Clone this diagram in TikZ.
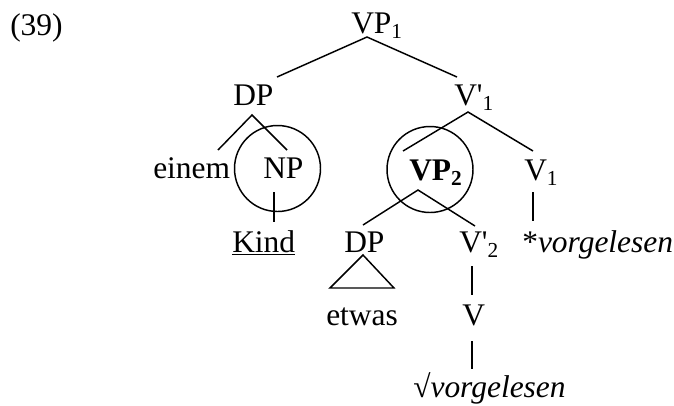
\documentclass[tikz,border=0pt]{standalone}
\usepackage{fontspec}
\setmainfont{Liberation Serif}
\newcommand\lsub[1]{\raisebox{-0.35ex}{\fontsize{16}{18}\selectfont #1}}
\begin{document}
\begin{tikzpicture}[x=0.75pt,y=-0.75pt,
  lbl/.style={inner sep=0pt,anchor=base west,font=\fontsize{23.6}{28}\selectfont},
  edge/.style={line width=1.1pt},
  ring/.style={circle,draw,line width=1.1pt,minimum size=64.5pt,inner sep=0pt}]
\useasboundingbox (0,0) rectangle (674,405);
% labels
\node[lbl] (n39) at (10,35) {(39)};
\node[lbl] (vp1) at (351,33) {VP\lsub{1}};
\node[lbl] (dp1) at (233,105) {DP};
\node[lbl] (vb1) at (454,105) {V\textquotesingle\lsub{1}};
\node[lbl] (einem) at (153,178) {einem};
\node[lbl] (np) at (263,178) {NP};
\node[lbl] (vp2) at (409,180) {\textbf{VP\lsub{\textbf{2}}}};
\node[lbl] (v1) at (524,180) {V\lsub{1}};
\node[lbl] (kind) at (232,252) {\underline{Kind}};
\node[lbl] (dp2) at (344,252) {DP};
\node[lbl] (vb2) at (459,252) {V\textquotesingle\lsub{2}};
\node[lbl] (star) at (522,252) {*\textit{vorgelesen}};
\node[lbl] (etwas) at (326,325) {etwas};
\node[lbl] (v) at (462,325) {V};
\node[lbl] (root) at (413,397) {√\textit{vorgelesen}};
% circles
\node[ring] (npc) at (277.5,168.5) {};
\node[ring] (vp2c) at (430,169.5) {};
% connector ends
\coordinate (a1) at (367,37); \coordinate (a1l) at (277,77); \coordinate (a1r) at (457,77);
\coordinate (a2) at (252,115); \coordinate (a2l) at (218,150); \coordinate (a2r) at (287,150);
\coordinate (a3t) at (274,192); \coordinate (a3b) at (274,222);
\coordinate (a4) at (468,112); \coordinate (a4l) at (403,151); \coordinate (a4r) at (533,151);
\coordinate (a5) at (418,190); \coordinate (a5l) at (363,225); \coordinate (a5r) at (475,226);
\coordinate (a6t) at (533,192); \coordinate (a6b) at (533,221);
\coordinate (t1) at (363,255); \coordinate (t2) at (330,288); \coordinate (t3) at (394,288);
\coordinate (a7t) at (472,266); \coordinate (a7b) at (472,295);
\coordinate (a8t) at (472,341); \coordinate (a8b) at (472,369);
\draw[edge] (a1l) -- (a1) -- (a1r);
\draw[edge] (a2l) -- (a2) -- (a2r);
\draw[edge] (a3t) -- (a3b);
\draw[edge] (a4l) -- (a4) -- (a4r);
\draw[edge] (a5l) -- (a5) -- (a5r);
\draw[edge] (a6t) -- (a6b);
\draw[edge] (t1) -- (t2) -- (t3) -- cycle;
\draw[edge] (a7t) -- (a7b);
\draw[edge] (a8t) -- (a8b);
\end{tikzpicture}
\end{document}
